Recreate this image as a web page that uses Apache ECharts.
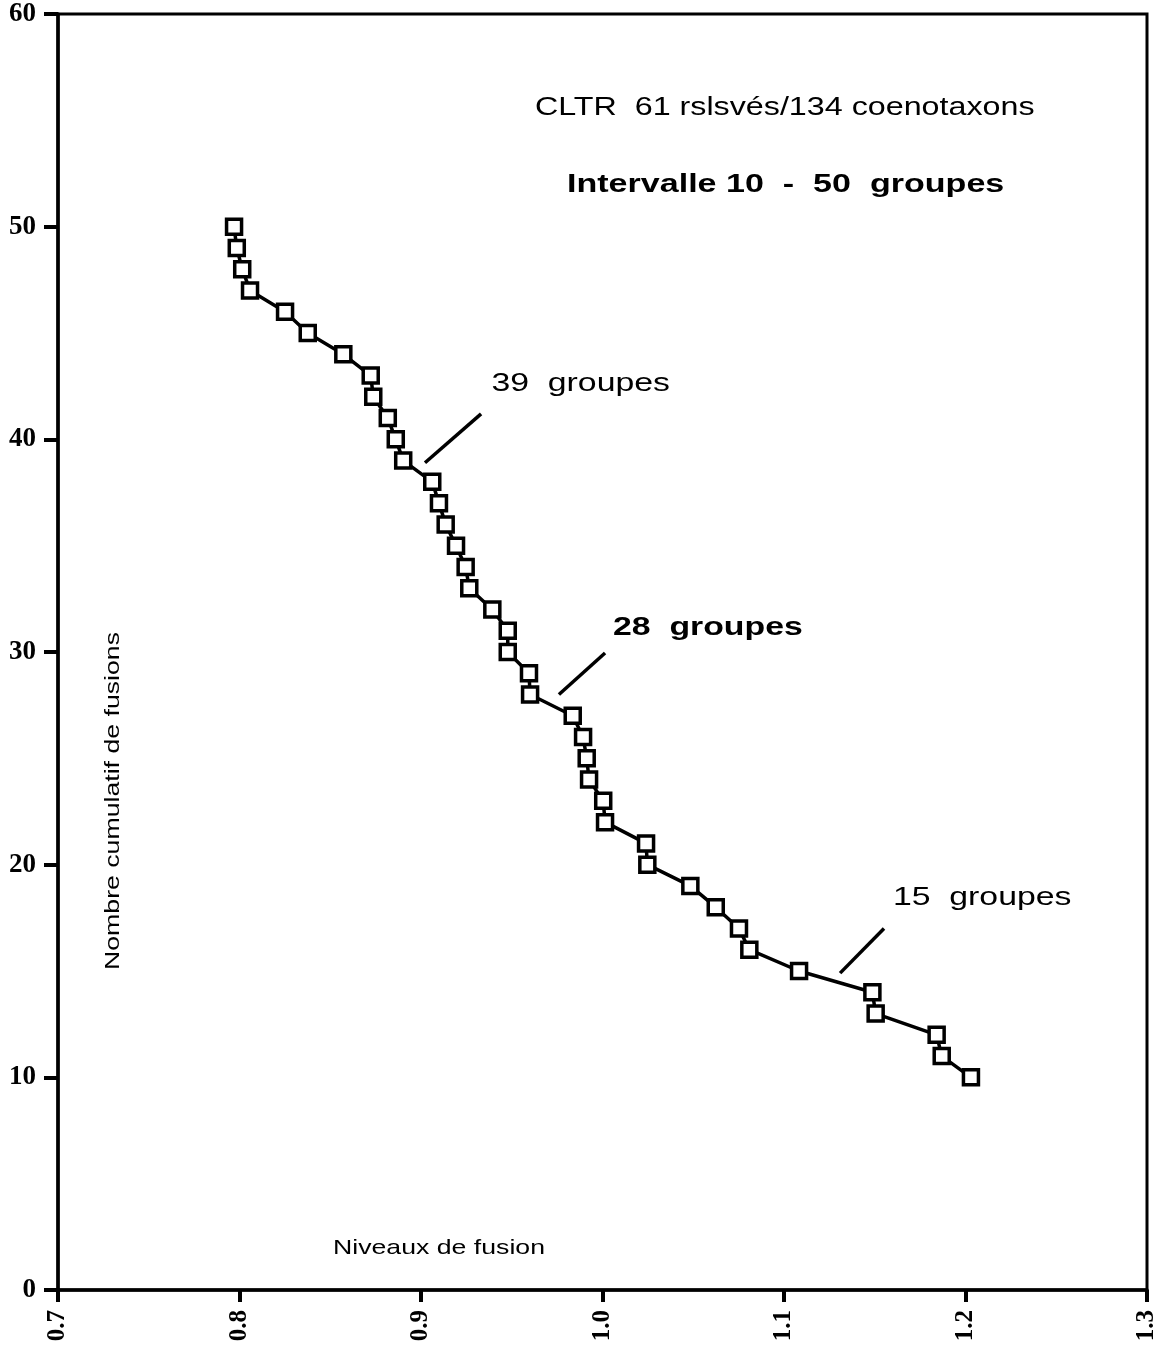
<!DOCTYPE html>
<html>
<head>
<meta charset="utf-8">
<script src="https://cdn.jsdelivr.net/npm/echarts@6/dist/echarts.min.js"></script>
<style>
  html, body { margin: 0; padding: 0; background: #fff; }
  #chart { width: 1173px; height: 1348px; }
</style>
</head>
<body>
<div id="chart"></div>
<script>
// Fusion levels (x) against cumulative number of fusions (y), 50 down to 10 groups
const fusionLevels = [
  0.797, 0.7985, 0.8015, 0.8058, 0.8251, 0.8376, 0.8572, 0.8723, 0.8737, 0.8817,
  0.8861, 0.8902, 0.9062, 0.9099, 0.9136, 0.9193, 0.9246, 0.9266, 0.9393, 0.9478,
  0.9478, 0.9595, 0.9601, 0.9836, 0.9893, 0.9913, 0.9926, 1.0004, 1.0014, 1.0240,
  1.0247, 1.0484, 1.0624, 1.0752, 1.0809, 1.1083, 1.1487, 1.1505, 1.1841, 1.1869,
  1.2030
];
const cumulativeFusions = [
  50, 49, 48, 47, 46, 45, 44, 43, 42, 41,
  40, 39, 38, 37, 36, 35, 34, 33, 32, 31,
  30, 29, 28, 27, 26, 25, 24, 23, 22, 21,
  20, 19, 18, 17, 16, 15, 14, 13, 12, 11,
  10
];
const xTicks = ['0.7', '0.8', '0.9', '1.0', '1.1', '1.2', '1.3'];
const yTicks = ['0', '10', '20', '30', '40', '50', '60'];

const titleLine = 'CLTR  61 rslsvés/134 coenotaxons';
const subtitleLine = 'Intervalle 10  -  50  groupes';
const xAxisTitle = 'Niveaux de fusion';
const yAxisTitle = 'Nombre cumulatif de fusions';

// Group-count callouts: label text and whether it is set in bold
const calloutTexts = ['39  groupes', '28  groupes', '15  groupes'];
const calloutBold = [false, true, false];

const points = fusionLevels.map((x, i) => [x, cumulativeFusions[i]]);

const SANS = '"Liberation Sans", Arial, sans-serif';
const SERIF = '"Liberation Serif", "Times New Roman", serif';

// Leader line ends (data space) and label anchors for each callout
const calloutLayout = [
  { from: [0.9022, 38.9], to: [0.9331, 41.2], label: [0.9388, 42.6] },
  { from: [0.9760, 28.0], to: [1.0014, 29.95], label: [1.0058, 31.15] },
  { from: [1.1309, 14.9], to: [1.1551, 17.0], label: [1.1600, 18.45] }
];

const chart = echarts.init(document.getElementById('chart'));

const option = {
  backgroundColor: '#ffffff',
  animation: false,
  grid: {
    left: 58, right: 26, top: 14, bottom: 58,
    show: true, borderColor: '#000', borderWidth: 3, backgroundColor: 'transparent'
  },
  xAxis: {
    type: 'value', min: 0.7, max: 1.3, interval: 0.1,
    axisLine: { show: true, onZero: false, lineStyle: { color: '#000', width: 3.5 } },
    axisTick: { show: true, inside: false, length: 12, lineStyle: { color: '#000', width: 4 } },
    splitLine: { show: false },
    axisLabel: {
      rotate: 90, margin: 20, color: '#000',
      fontFamily: SERIF, fontSize: 25, fontWeight: 'bold',
      formatter: (v) => {
        const i = Math.round((v - 0.7) / 0.1);
        return xTicks[i] !== undefined ? xTicks[i] : '';
      }
    }
  },
  yAxis: {
    type: 'value', min: 0, max: 60, interval: 10,
    axisLine: { show: true, onZero: false, lineStyle: { color: '#000', width: 3.5 } },
    axisTick: { show: true, inside: false, length: 14, lineStyle: { color: '#000', width: 4 } },
    splitLine: { show: false },
    axisLabel: {
      margin: 22, color: '#000',
      fontFamily: SERIF, fontSize: 27, fontWeight: 'bold',
      formatter: (v) => {
        const i = Math.round(v / 10);
        return yTicks[i] !== undefined ? yTicks[i] : '';
      }
    }
  },
  series: [
    {
      type: 'line',
      data: points,
      symbol: 'rect',
      symbolSize: 15,
      showAllSymbol: true,
      lineStyle: { color: '#000', width: 3.5 },
      itemStyle: { color: '#fff', borderColor: '#000', borderWidth: 3.5 },
      z: 3
    },
    {
      // leader lines of the callouts
      type: 'lines',
      coordinateSystem: 'cartesian2d',
      polyline: false,
      silent: true,
      lineStyle: { color: '#000', width: 3.5, opacity: 1 },
      data: calloutLayout.map((c) => ({ coords: [c.from, c.to] })),
      z: 2
    }
  ]
};

chart.setOption(option);

// Free text: titles, axis names and callout labels (set a bit wide, like the printed face)
const texts = [
  { type: 'text', x: 535, y: 108, scaleX: 1.29,
    style: { text: titleLine, font: '25px ' + SANS, fill: '#000', verticalAlign: 'middle', align: 'left' } },
  { type: 'text', x: 567, y: 185, scaleX: 1.31,
    style: { text: subtitleLine, font: 'bold 26px ' + SANS, fill: '#000', verticalAlign: 'middle', align: 'left' } },
  { type: 'text', x: 333, y: 1248, scaleX: 1.27,
    style: { text: xAxisTitle, font: '21px ' + SANS, fill: '#000', verticalAlign: 'middle', align: 'left' } },
  { type: 'text', x: 113, y: 801, scaleX: 1.27, rotation: Math.PI / 2,
    style: { text: yAxisTitle, font: '21px ' + SANS, fill: '#000', verticalAlign: 'middle', align: 'center' } }
];
calloutLayout.forEach((c, i) => {
  const p = chart.convertToPixel({ gridIndex: 0 }, c.label);
  texts.push({
    type: 'text', x: p[0], y: p[1], scaleX: 1.3,
    style: {
      text: calloutTexts[i],
      font: (calloutBold[i] ? 'bold ' : '') + '26px ' + SANS,
      fill: '#000', verticalAlign: 'middle', align: 'left'
    }
  });
});
chart.setOption({ graphic: { elements: texts } });
</script>
</body>
</html>
